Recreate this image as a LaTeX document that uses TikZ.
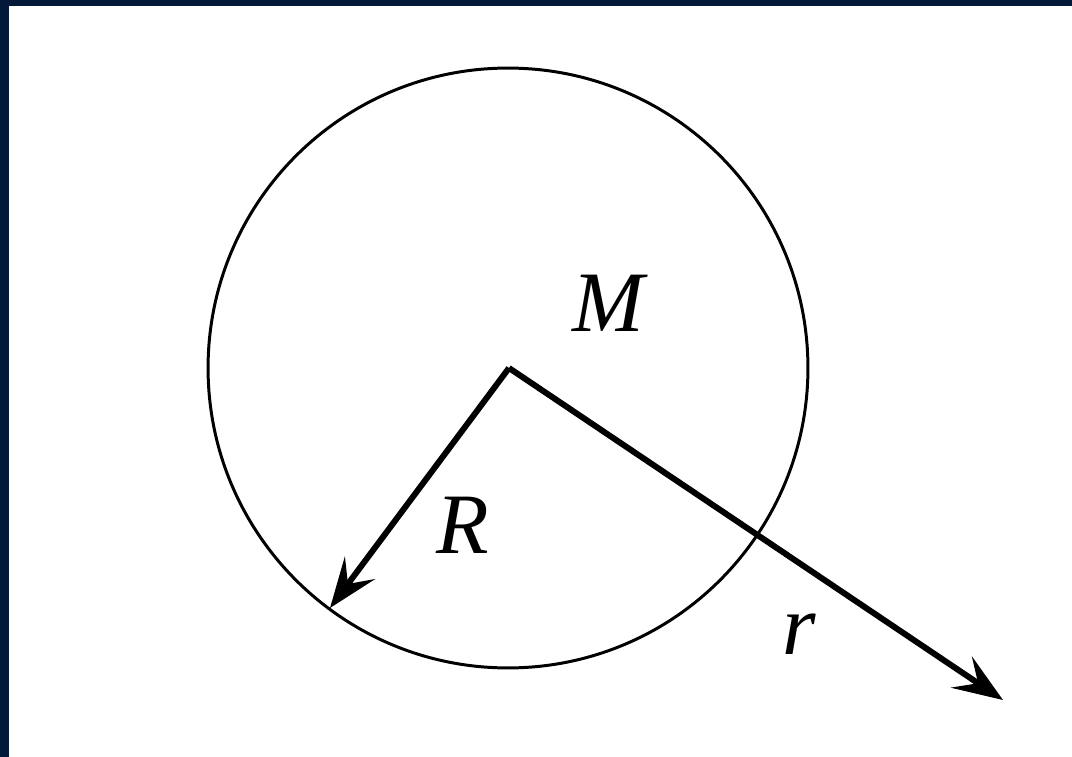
\documentclass[tikz,border=0pt]{standalone}
\usepackage{fontspec}
\newfontfamily\labfont{Liberation Serif}
\usepackage{xcolor}
\definecolor{framenavy}{HTML}{03193A}
\usetikzlibrary{arrows.meta,positioning}
\tikzset{
  body/.style={draw, circle, line width=1.7pt, minimum size=12cm, inner sep=0pt},
  lab/.style={font=\labfont\fontsize{49}{56}\selectfont\itshape, inner sep=0pt},
  vec/.style={-{Stealth[length=10mm, width=7.5mm, inset=4mm]}, line width=3.4pt},
}
\begin{document}
\begin{tikzpicture}[x=0.02cm, y=-0.02cm]
  \useasboundingbox (0,0) rectangle (1072,757);
  \fill[framenavy] (0,0) rectangle (1072,6);
  \fill[framenavy] (0,0) rectangle (9,757);
  \coordinate (o) at (509,368);
  \node[body] (mass) at (508,368) {};
  \coordinate (rtip) at (330,608);
  \coordinate (ptip) at (1003,700);
  \draw[vec] (o) -- (rtip);
  \draw[vec] (o) -- (ptip);
  \node[lab] (m) at (608,303) {M};
  \node[lab] (bigr) at (463,525) {R};
  \node[lab] (smallr) at (799,634) {r};
\end{tikzpicture}
\end{document}
